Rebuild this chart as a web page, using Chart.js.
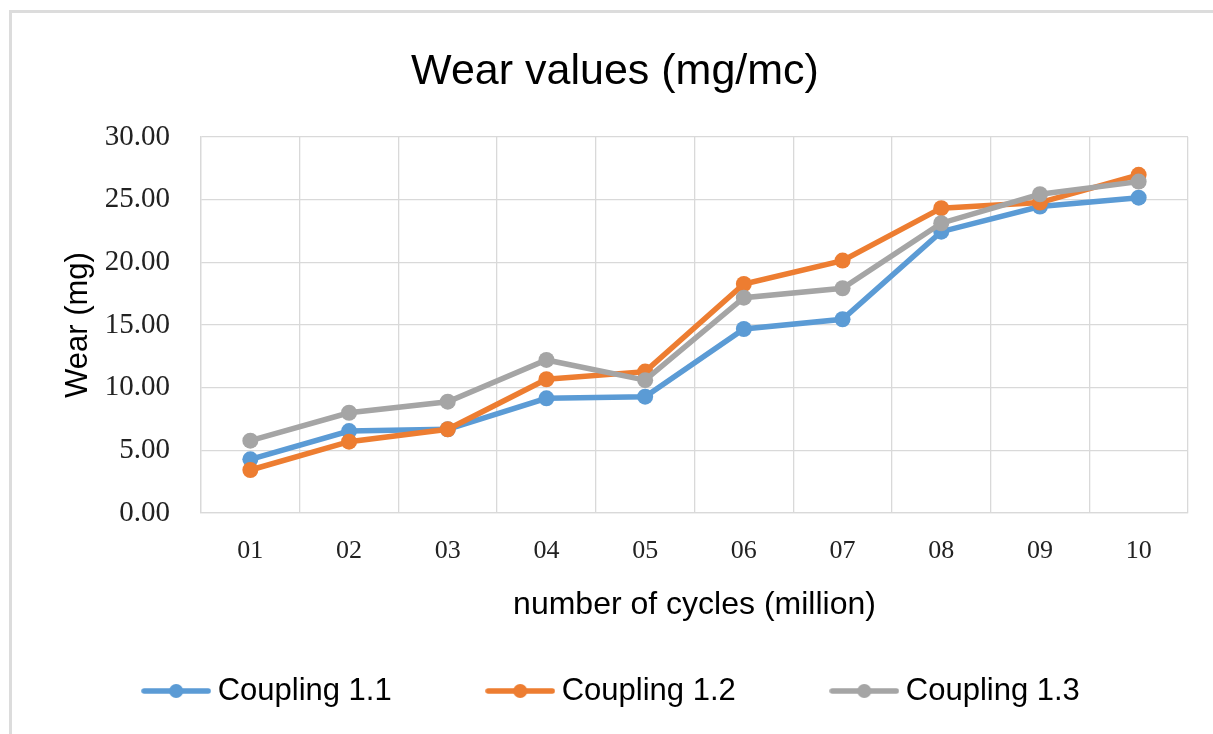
<!DOCTYPE html>
<html>
<head>
<meta charset="utf-8">
<script src="https://cdn.jsdelivr.net/npm/chart.js@4.4.1/dist/chart.umd.min.js"></script>
<style>
  html, body { margin: 0; padding: 0; background: #ffffff; }
  #wrap { position: relative; width: 1213px; height: 734px; overflow: hidden; }
  #frame { position: absolute; left: 9px; top: 10px; width: 1300px; height: 800px;
           border-top: 3px solid #dcdcdc; border-left: 3px solid #dcdcdc; box-sizing: border-box; }
  #c { position: absolute; left: 0; top: 0; }
</style>
</head>
<body>
<div id="wrap">
  <div id="frame"></div>
  <canvas id="c" width="1213" height="734"></canvas>
</div>
<script>
const categories = ['01', '02', '03', '04', '05', '06', '07', '08', '09', '10'];
const coupling11 = [4.28, 6.54, 6.68, 9.15, 9.28, 14.68, 15.46, 22.45, 24.45, 25.16];
const coupling12 = [3.43, 5.69, 6.68, 10.67, 11.28, 18.27, 20.14, 24.32, 24.77, 26.98];
const coupling13 = [5.77, 8.00, 8.88, 12.21, 10.60, 17.18, 17.93, 23.12, 25.43, 26.44];
const seriesNames = ['Coupling 1.1', 'Coupling 1.2', 'Coupling 1.3'];
const seriesColors = ['#5B9BD5', '#ED7D31', '#A5A5A5'];
const yMin = 0, yMax = 30, yStep = 5;

function legendMarker(color) {
  const cv = document.createElement('canvas');
  cv.width = 70; cv.height = 16;
  const g = cv.getContext('2d');
  g.strokeStyle = color; g.lineWidth = 5.5; g.lineCap = 'round';
  g.beginPath(); g.moveTo(3, 8); g.lineTo(67, 8); g.stroke();
  g.fillStyle = color;
  g.beginPath(); g.arc(35, 8, 7, 0, Math.PI * 2); g.fill();
  return cv;
}
const markers = seriesColors.map(legendMarker);

const seriesData = [coupling11, coupling12, coupling13];
const datasets = seriesData.map((d, i) => ({
  label: seriesNames[i],
  data: d,
  borderColor: seriesColors[i],
  backgroundColor: seriesColors[i],
  borderWidth: 5.5,
  pointRadius: 8,
  pointHoverRadius: 8,
  pointBorderWidth: 0,
  pointBackgroundColor: seriesColors[i],
  tension: 0,
  order: 3 - i
}));

new Chart(document.getElementById('c'), {
  type: 'line',
  data: { labels: categories, datasets: datasets },
  options: {
    responsive: false,
    animation: false,
    devicePixelRatio: 1,
    layout: { padding: { top: 0, left: 42, right: 25, bottom: 17.5 } },
    plugins: {
      tooltip: { enabled: false },
      title: {
        display: true,
        text: 'Wear values (mg/mc)',
        color: '#000000',
        font: { family: 'Liberation Sans', size: 43, weight: 'normal' },
        padding: { top: 46.2, bottom: 39.2 }
      },
      legend: {
        position: 'bottom',
        labels: {
          usePointStyle: true,
          pointStyleWidth: 52,
          padding: 102.5,
          color: '#000000',
          font: { family: 'Liberation Sans', size: 31 },
          sort: (a, b) => a.datasetIndex - b.datasetIndex,
          generateLabels: (chart) => {
            const items = Chart.defaults.plugins.legend.labels.generateLabels(chart);
            items.forEach((it) => { it.pointStyle = markers[it.datasetIndex]; });
            return items;
          }
        }
      }
    },
    scales: {
      x: {
        type: 'category',
        offset: true,
        afterFit: (s) => { s.height = 60; },
        grid: { color: '#d9d9d9', lineWidth: 1.3, offset: true, drawTicks: false },
        border: { display: true, color: '#d9d9d9', width: 1.3 },
        ticks: {
          color: '#222222', padding: 23, maxRotation: 0, autoSkip: false,
          font: { family: 'Liberation Serif', size: 26 }
        },
        title: {
          display: true, text: 'number of cycles (million)', color: '#000000',
          font: { family: 'Liberation Sans', size: 32 },
          padding: { top: 0, bottom: -51.2 }
        }
      },
      y: {
        min: yMin, max: yMax,
        afterFit: (s) => { s.width = 159; },
        grid: { color: '#d9d9d9', lineWidth: 1.3, drawTicks: false },
        border: { display: true, color: '#d9d9d9', width: 1.3 },
        ticks: {
          stepSize: yStep, color: '#222222', padding: 31,
          font: { family: 'Liberation Serif', size: 29 },
          callback: (v) => Number(v).toFixed(2)
        },
        title: {
          display: true, text: 'Wear (mg)', color: '#000000',
          font: { family: 'Liberation Sans', size: 31 },
          padding: { top: 17.4, bottom: 0 }
        }
      }
    }
  }
});
</script>
</body>
</html>
